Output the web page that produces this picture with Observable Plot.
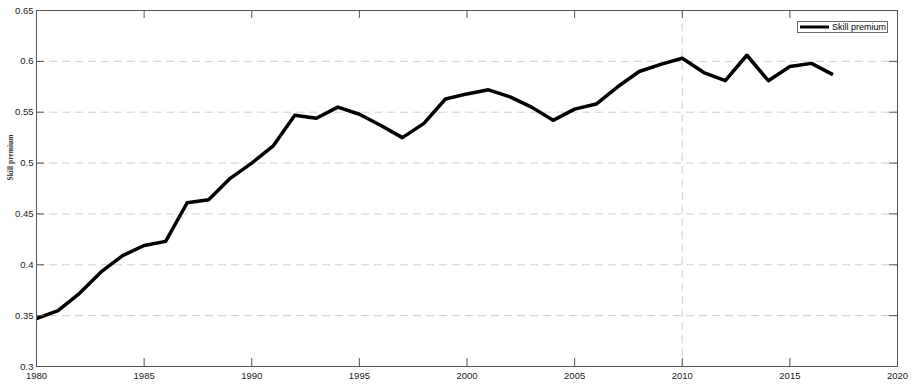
<!DOCTYPE html>
<html>
<head>
<meta charset="utf-8">
<script src="https://cdn.jsdelivr.net/npm/d3@7"></script>
<script src="https://cdn.jsdelivr.net/npm/@observablehq/plot@0.6"></script>
<style>
  html, body { margin: 0; padding: 0; background: #fff; }
  #wrap { position: relative; width: 914px; height: 384px; }
  #legend {
    position: absolute; left: 797px; top: 21px; width: 91px; height: 12px;
    box-sizing: border-box; border: 1px solid #666; background: #fff;
    font: 9px "Liberation Sans", Arial, sans-serif; color: #000;
    display: flex; align-items: center;
  }
  #legend svg { margin-left: 2px; margin-right: 3px; }
</style>
</head>
<body>
<div id="wrap"></div>
<script>
const years = [1980,1981,1982,1983,1984,1985,1986,1987,1988,1989,
               1990,1991,1992,1993,1994,1995,1996,1997,1998,1999,
               2000,2001,2002,2003,2004,2005,2006,2007,2008,2009,
               2010,2011,2012,2013,2014,2015,2016,2017];
const skillPremium = [0.347,0.355,0.372,0.393,0.409,0.419,0.423,0.461,0.464,0.485,
                      0.500,0.517,0.547,0.544,0.555,0.548,0.537,0.525,0.539,0.563,
                      0.568,0.572,0.565,0.555,0.542,0.553,0.558,0.575,0.590,0.597,
                      0.603,0.589,0.581,0.606,0.581,0.595,0.598,0.587];
const xTicks = [1980,1985,1990,1995,2000,2005,2010,2015,2020];
const yTicks = [0.3,0.35,0.4,0.45,0.5,0.55,0.6,0.65];
const yTickLabels = ["0.3","0.35","0.4","0.45","0.5","0.55","0.6","0.65"];
const yGrid = [0.35,0.4,0.45,0.5,0.55,0.6];
const xGrid = [2010];
const seriesName = "Skill premium";
const yLabel = "Skill premium";

const data = years.map((y, i) => ({year: y, value: skillPremium[i]}));

const W = 914, H = 384, ML = 36, MR = 17, MT = 10, MB = 18;
const innerW = W - ML - MR, innerH = H - MT - MB;
const tickLen = 8;
const axisColor = "#555";
const font = "Liberation Sans, Arial, sans-serif";

const chart = Plot.plot({
  width: W, height: H,
  marginLeft: ML, marginRight: MR, marginTop: MT, marginBottom: MB,
  style: {fontFamily: font, fontSize: "9.5px", color: "#222", background: "#fff"},
  x: {domain: [1980, 2020]},
  y: {domain: [0.3, 0.65]},
  marks: [
    Plot.ruleY(yGrid, {stroke: "#cfcfcf", strokeDasharray: "8,5", strokeWidth: 1}),
    Plot.ruleX(xGrid, {stroke: "#cfcfcf", strokeDasharray: "8,5", strokeWidth: 1}),
    Plot.line(data, {x: "year", y: "value", stroke: "#000", strokeWidth: 3.5, strokeLinejoin: "round", strokeLinecap: "butt"}),
    // inward ticks on all four sides
    Plot.ruleX(xTicks, {stroke: axisColor, insetTop: innerH - tickLen}),
    Plot.ruleX(xTicks, {stroke: axisColor, insetBottom: innerH - tickLen}),
    Plot.ruleY(yTicks, {stroke: axisColor, insetRight: innerW - tickLen}),
    Plot.ruleY(yTicks, {stroke: axisColor, insetLeft: innerW - tickLen}),
    Plot.frame({stroke: axisColor, strokeWidth: 1}),
    Plot.axisX(xTicks, {anchor: "bottom", tickSize: 0, tickPadding: 6, tickFormat: d => String(d), label: null, fill: "#222"}),
    Plot.axisY(yTicks, {anchor: "left", tickSize: 0, tickPadding: 3, tickFormat: (d, i) => yTickLabels[yTicks.indexOf(d)], label: null, fill: "#222"}),
    Plot.text([yLabel], {frameAnchor: "left", text: d => d, rotate: -90, dx: -26, dy: -8,
      fontFamily: "Liberation Serif, Times New Roman, serif", fontSize: 7.5, fontWeight: "bold", fill: "#333"})
  ]
});

const wrap = document.getElementById("wrap");
wrap.appendChild(chart);
const legend = document.createElement("div");
legend.id = "legend";
legend.innerHTML = `<svg width="29" height="4"><line x1="0" y1="2" x2="29" y2="2" stroke="#000" stroke-width="3"/></svg><span></span>`;
legend.querySelector("span").textContent = seriesName;
wrap.appendChild(legend);
</script>
</body>
</html>
